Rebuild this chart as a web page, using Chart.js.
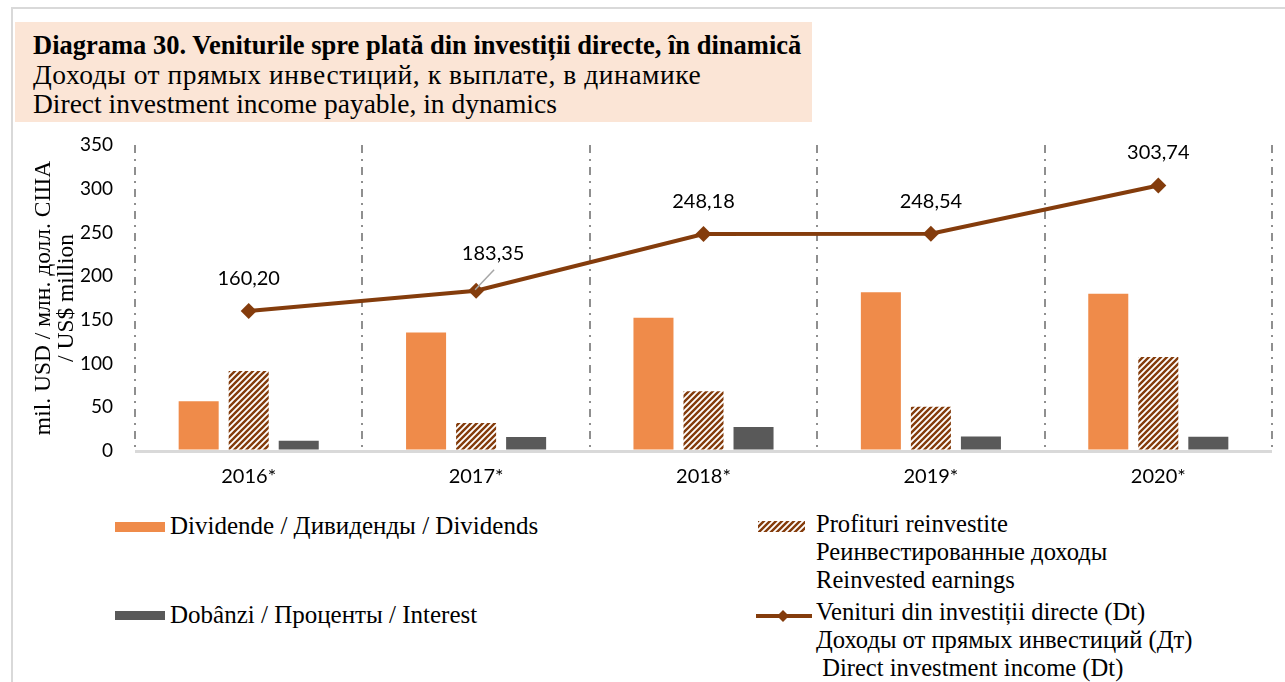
<!DOCTYPE html>
<html>
<head>
<meta charset="utf-8">
<script src="https://cdn.jsdelivr.net/npm/chart.js@4"></script>
<style>
  body { margin: 0; width: 1285px; height: 682px; background: #fff; position: relative; overflow: hidden; font-family: "Liberation Serif", serif; color: #000; }
  #frame { position: absolute; left: 11px; top: 7px; width: 1300px; height: 700px; border-left: 2px solid #D9D9D9; border-top: 2px solid #D9D9D9; }
  #title { position: absolute; left: 15px; top: 22px; width: 797px; height: 100px; background: #FBE5D6; }
  #title div { position: absolute; left: 18px; line-height: 30px; white-space: nowrap; }
  #chartBox { position: absolute; left: 0; top: 0; }
  .leg { position: absolute; font-size: 25px; line-height: 28px; white-space: pre; }
  .leg.right { font-size: 24.6px; }
  .sw { position: absolute; }
</style>
</head>
<body>
<div id="frame"></div>
<div id="title">
  <div style="top:8px;font-weight:bold;font-size:26.5px">Diagrama 30. Veniturile spre plată din investiții directe, în dinamică</div>
  <div style="top:38px;font-size:27.5px;letter-spacing:0.55px">Доходы от прямых инвестиций, к выплате, в динамике</div>
  <div style="top:67px;font-size:27.5px">Direct investment income payable, in dynamics</div>
</div>
<div id="chartBox"><canvas id="chart" width="1285" height="500"></canvas></div>
<div id="legend"></div>

<script>
// dane
const years = ['2016*', '2017*', '2018*', '2019*', '2020*'];
const dividends = [57, 135.5, 152.5, 181.5, 180];
const reinvested = [91.5, 32, 68.2, 50.5, 107.5];
const interest = [11.7, 15.9, 27.5, 16.5, 16.2];
const income = [160.20, 183.35, 248.18, 248.54, 303.74];

const dividendsLabel = ['Dividende / Дивиденды / Dividends'];
const reinvestedLabel = ['Profituri reinvestite', 'Реинвестированные доходы', 'Reinvested earnings'];
const interestLabel = ['Dobânzi / Проценты / Interest'];
const incomeLabel = ['Venituri din investiții directe (Dt)', 'Доходы от прямых инвестиций (Дт)', ' Direct investment income (Dt)'];
const yTitle = ['mil. USD / млн. долл. США', '/ US$ million'];

const orange = '#EF8B4A';
const brown = '#843C0C';
const grey = '#595959';

// hasurare diagonala
function makeHatch(color) {
  const s = 6;
  const c = document.createElement('canvas');
  c.width = s; c.height = s;
  const g = c.getContext('2d');
  g.fillStyle = '#fff';
  g.fillRect(0, 0, s, s);
  g.strokeStyle = color;
  g.lineWidth = 2.4;
  g.beginPath();
  g.moveTo(-1, 1); g.lineTo(1, -1);
  g.moveTo(0, s); g.lineTo(s, 0);
  g.moveTo(s - 1, s + 1); g.lineTo(s + 1, s - 1);
  g.stroke();
  return c;
}
const hatchTile = makeHatch(brown);
const hatch = document.getElementById('chart').getContext('2d').createPattern(hatchTile, 'repeat');

const fmt = v => v.toFixed(2).replace('.', ',');

// pozitia etichetelor fata de punct
const labelOffsets = [
  { dx: 0, dy: -32 },
  { dx: 17, dy: -37, leader: true },
  { dx: 0, dy: -32 },
  { dx: 0, dy: -32 },
  { dx: 0, dy: -33 }
];

const pointLabels = {
  id: 'pointLabels',
  afterDatasetsDraw(chart) {
    const meta = chart.getDatasetMeta(0);
    const g = chart.ctx;
    g.save();
    g.font = '20px Lato';
    g.fillStyle = '#000';
    g.textAlign = 'center';
    g.textBaseline = 'middle';
    meta.data.forEach((pt, i) => {
      const o = labelOffsets[i];
      const x = pt.x + o.dx, y = pt.y + o.dy;
      if (o.leader) {
        g.strokeStyle = '#A6A6A6';
        g.lineWidth = 1.5;
        g.beginPath();
        g.moveTo(pt.x - 1, pt.y - 1);
        g.lineTo(x + 1, y + 16);
        g.stroke();
      }
      g.fillText(fmt(income[i]), x, y);
    });
    g.restore();
  }
};

const tickFont = { family: 'Lato', size: 20 };

new Chart(document.getElementById('chart'), {
  type: 'bar',
  data: {
    labels: years,
    datasets: [
      {
        type: 'line',
        label: incomeLabel.join(' '),
        data: income,
        borderColor: brown,
        backgroundColor: brown,
        borderWidth: 4,
        pointStyle: 'rectRot',
        pointRadius: 8,
        pointBorderWidth: 0,
        pointBackgroundColor: brown,
        tension: 0,
        order: 0
      },
      { label: dividendsLabel.join(' '), data: dividends, backgroundColor: orange, order: 1, categoryPercentage: 0.66, barPercentage: 0.8 },
      { label: reinvestedLabel.join(' '), data: reinvested, backgroundColor: hatch, order: 1, categoryPercentage: 0.66, barPercentage: 0.8 },
      { label: interestLabel.join(' '), data: interest, backgroundColor: grey, order: 1, categoryPercentage: 0.66, barPercentage: 0.8 }
    ]
  },
  options: {
    responsive: false,
    animation: false,
    layout: { padding: { left: 33, right: 13, top: 145, bottom: 4 } },
    plugins: { legend: { display: false }, tooltip: { enabled: false } },
    scales: {
      x: {
        grid: { color: '#8F8F8F', lineWidth: 2, drawTicks: false, offset: true },
        border: { display: false, dash: [8, 6, 2, 6] },
        ticks: { font: tickFont, color: '#000', padding: 14 },
        afterFit: s => { s.height = 45; }
      },
      y: {
        min: 0,
        max: 350,
        ticks: { stepSize: 50, font: { family: 'Lato', size: 19 }, color: '#000', padding: 22 },
        grid: { color: c => (c.tick.value === 0 ? '#D9D9D9' : 'rgba(0,0,0,0)'), lineWidth: 3, drawTicks: false },
        border: { display: false },
        title: { display: true, text: yTitle, font: { family: 'Liberation Serif', size: 23.5, lineHeight: 0.95 }, color: '#000', padding: 0 },
        afterFit: s => { s.width = 102; }
      }
    }
  },
  plugins: [pointLabels]
});

// legenda
function swatch(left, top, w, h, draw) {
  const c = document.createElement('canvas');
  c.width = w; c.height = h;
  c.className = 'sw';
  c.style.left = left + 'px';
  c.style.top = top + 'px';
  draw(c.getContext('2d'), w, h);
  document.getElementById('legend').appendChild(c);
}
function legText(left, top, lines, cls) {
  const d = document.createElement('div');
  d.className = 'leg' + (cls ? ' ' + cls : '');
  d.style.left = left + 'px';
  d.style.top = top + 'px';
  d.textContent = lines.join('\n');
  document.getElementById('legend').appendChild(d);
}

swatch(115, 522, 50, 10, (g, w, h) => { g.fillStyle = orange; g.fillRect(0, 0, w, h); });
legText(170, 512, dividendsLabel);

swatch(758, 521, 47, 11, (g, w, h) => { g.fillStyle = g.createPattern(hatchTile, 'repeat'); g.fillRect(0, 0, w, h); });
legText(816, 510, reinvestedLabel, 'right');

swatch(115, 611, 50, 9, (g, w, h) => { g.fillStyle = grey; g.fillRect(0, 0, w, h); });
legText(170, 601, interestLabel);

swatch(756, 606, 56, 20, (g, w, h) => {
  g.strokeStyle = brown; g.lineWidth = 4;
  g.beginPath(); g.moveTo(0, 10); g.lineTo(w, 10); g.stroke();
  g.fillStyle = brown;
  g.beginPath(); g.moveTo(27, 4); g.lineTo(33, 10); g.lineTo(27, 16); g.lineTo(21, 10); g.closePath(); g.fill();
});
legText(816, 598, incomeLabel, 'right');
</script>
</body>
</html>
